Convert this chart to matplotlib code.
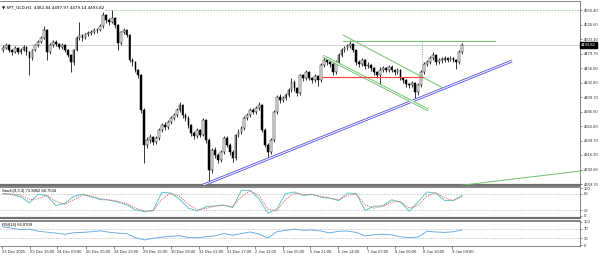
import matplotlib
matplotlib.use("Agg")
import matplotlib.pyplot as plt
import matplotlib.transforms as mtrans
import numpy as np

# ---- data ----
title = "SPT_GLD,H1  4482.84 4497.97 4479.14 4493.82"
first_open = 4486

closes = [4489, 4494, 4486, 4483, 4489, 4483, 4486, 4491, 4483, 4473,
          4486, 4494, 4499, 4505, 4518, 4483, 4494, 4499, 4496, 4491,
          4494, 4486, 4478, 4466, 4486, 4505, 4510, 4505, 4512, 4513,
          4515, 4518, 4518, 4525, 4542, 4534, 4531, 4537, 4526, 4497,
          4515, 4518, 4510, 4470, 4466, 4454, 4445, 4389, 4333, 4341,
          4346, 4337, 4344, 4357, 4365, 4362, 4370, 4376, 4381, 4389,
          4397, 4381, 4376, 4365, 4352, 4347, 4357, 4349, 4373, 4341,
          4292, 4325, 4317, 4308, 4321, 4344, 4333, 4321, 4312, 4349,
          4354, 4360, 4376, 4381, 4389, 4386, 4392, 4397, 4357, 4333,
          4321, 4341, 4386, 4410, 4405, 4408, 4413, 4421, 4434, 4424,
          4416, 4445, 4441, 4450, 4441, 4437, 4444, 4437, 4462, 4470,
          4466, 4463, 4450, 4466, 4478, 4486, 4489, 4492, 4496, 4486,
          4466, 4463, 4470, 4460, 4462, 4457, 4450, 4445, 4454, 4457,
          4454, 4458, 4454, 4450, 4454, 4441, 4437, 4431, 4429, 4433,
          4418, 4429, 4450, 4463, 4466, 4473, 4478, 4466, 4470, 4470,
          4473, 4470, 4473, 4470, 4466, 4482.84, 4493.82]
highs = [4494, 4497, 4495, 4488, 4492, 4490, 4489, 4494, 4492, 4485,
         4488, 4496, 4502, 4509, 4525, 4519, 4497, 4502, 4502, 4498,
         4497, 4495, 4488, 4479, 4488, 4508, 4531, 4512, 4514, 4516,
         4518, 4521, 4522, 4528, 4547, 4544, 4537, 4550, 4539, 4528,
         4517, 4522, 4520, 4512, 4473, 4468, 4456, 4447, 4392, 4345,
         4350, 4348, 4347, 4360, 4368, 4369, 4373, 4379, 4385, 4392,
         4402, 4399, 4385, 4379, 4367, 4355, 4360, 4359, 4376, 4375,
         4344, 4328, 4329, 4320, 4324, 4347, 4347, 4336, 4324, 4351,
         4358, 4363, 4379, 4385, 4392, 4393, 4395, 4402, 4399, 4360,
         4336, 4344, 4389, 4413, 4415, 4412, 4416, 4424, 4440, 4437,
         4427, 4448, 4448, 4453, 4452, 4443, 4447, 4446, 4465, 4475,
         4473, 4468, 4465, 4469, 4481, 4489, 4493, 4496, 4502, 4498,
         4488, 4469, 4473, 4472, 4466, 4464, 4459, 4452, 4458, 4460,
         4459, 4462, 4461, 4456, 4457, 4456, 4443, 4439, 4433, 4436,
         4435, 4432, 4453, 4467, 4470, 4476, 4483, 4480, 4473, 4474,
         4476, 4475, 4477, 4475, 4472, 4486, 4497.97]
lows = [4483, 4487, 4482, 4478, 4481, 4479, 4480, 4484, 4478, 4446,
        4470, 4484, 4491, 4497, 4503, 4470, 4480, 4491, 4492, 4487,
        4488, 4482, 4474, 4451, 4462, 4484, 4502, 4500, 4503, 4508,
        4510, 4512, 4514, 4516, 4522, 4530, 4527, 4529, 4522, 4486,
        4494, 4512, 4507, 4466, 4460, 4450, 4440, 4385, 4304, 4328,
        4336, 4333, 4334, 4341, 4354, 4357, 4359, 4366, 4373, 4378,
        4386, 4377, 4371, 4360, 4348, 4343, 4344, 4345, 4347, 4336,
        4273, 4288, 4312, 4304, 4305, 4318, 4329, 4317, 4305, 4309,
        4345, 4350, 4357, 4373, 4378, 4382, 4383, 4389, 4353, 4329,
        4313, 4318, 4338, 4383, 4401, 4402, 4405, 4410, 4418, 4420,
        4412, 4413, 4436, 4438, 4437, 4433, 4434, 4428, 4434, 4459,
        4462, 4459, 4446, 4447, 4463, 4475, 4483, 4486, 4489, 4482,
        4462, 4458, 4460, 4455, 4457, 4452, 4446, 4441, 4428, 4450,
        4450, 4451, 4450, 4446, 4447, 4437, 4433, 4427, 4424, 4426,
        4408, 4414, 4426, 4447, 4460, 4463, 4470, 4462, 4463, 4465,
        4467, 4466, 4468, 4466, 4456, 4464, 4479.14]
opens = [first_open] + closes[:-1]

# indicators, one value every 3 bars
ind_idx = list(range(0, 157, 3))
stoch_main = [80, 77, 69, 47, 78, 72, 38, 45, 70, 78,
              68, 59, 57, 50, 40, 22, 15, 20, 85, 82,
              60, 28, 18, 33, 36, 39, 30, 92, 92, 60,
              10, 25, 80, 86, 73, 78, 67, 64, 55, 82,
              80, 20, 35, 36, 58, 50, 17, 50, 86, 82,
              55, 56, 74]
stoch_signal = [80, 79, 74, 58, 62, 74, 52, 42, 58, 75,
                72, 62, 58, 53, 44, 28, 18, 18, 60, 82,
                70, 42, 22, 27, 35, 38, 33, 70, 90, 72,
                25, 18, 60, 82, 78, 76, 70, 65, 58, 73,
                80, 40, 28, 35, 50, 52, 28, 38, 72, 84,
                65, 55, 69]
rsi = [80, 73, 67, 69, 60, 56, 52, 47, 54, 55,
       58, 62, 56, 52, 50, 32, 23, 30, 35, 38,
       41, 33, 32, 37, 40, 50, 43, 50, 57, 48,
       31, 58, 64, 69, 64, 66, 61, 53, 60, 61,
       55, 40, 45, 47, 45, 36, 33, 35, 60, 57,
       55, 58, 66]

price_ticks = [4550.40, 4526.60, 4503.10, 4479.70, 4456.60, 4432.80, 4409.70,
               4386.60, 4362.80, 4339.70, 4316.90, 4292.80, 4269.70]
date_pos = [-0.3, 9.2, 18.4, 28.2, 37.7, 47.6, 57.1, 66.6, 76.1, 85.6,
            95.1, 104.3, 113.8, 123.7, 133.2, 142.7, 152.5]
date_labels = ["23 Dec 2025", "23 Dec 16:00", "24 Dec 09:00", "26 Dec 05:00",
               "28 Dec 23:00", "29 Dec 15:00", "30 Dec 08:00", "31 Dec 01:00",
               "31 Dec 17:00", "2 Jan 11:00", "5 Jan 05:00", "5 Jan 21:00",
               "6 Jan 14:00", "7 Jan 07:00", "8 Jan 00:00", "8 Jan 16:00",
               "9 Jan 09:00"]

# drawn objects (bar index, price)
resist_level = 4550.4
blue_trend = [(68, 4268.1), (172.9, 4468.1)]
green_upper = [(115.5, 4510.1), (149.5, 4424.6)]
green_lower = [(108.7, 4476.2), (144.5, 4389.1)]
green_top = [(115.5, 4500.4), (167, 4500.4)]
red_level = [(108.4, 4442.3), (142.7, 4442.3)]
green_vert = [(142.4, 4500.4), (142.4, 4437.5)]
green_bottom = [(153.6, 4266.5), (196, 4290.7)]

fs = 3.0
plt.rcParams["font.family"] = ["Liberation Sans", "DejaVu Sans"]
fig = plt.figure(figsize=(6, 2.57), dpi=100)
ax = fig.add_axes([0.0, 0.28, 0.9667, 0.716])
ax_st = fig.add_axes([0.0, 0.152, 0.9667, 0.12])
ax_rsi = fig.add_axes([0.0, 0.043, 0.9667, 0.097])

xmin, xmax = -1, 196
for a in (ax, ax_st, ax_rsi):
    a.set_xlim(xmin, xmax)
    for s in a.spines.values():
        s.set_color("#707070")
        s.set_linewidth(0.6)
    a.spines["left"].set_visible(False)
    a.yaxis.tick_right()
    a.tick_params(axis="y", labelsize=fs, length=1.5, width=0.4, pad=1, colors="#303030")
ax.spines["bottom"].set_linewidth(1.6)
ax_st.spines["top"].set_linewidth(1.2)
ax_st.spines["bottom"].set_linewidth(1.6)
ax_rsi.spines["top"].set_linewidth(1.2)

# ---- main price panel ----
ax.set_ylim(4268.1, 4564.9)
x = np.arange(len(closes))
for i in x:
    o, c, h, l = opens[i], closes[i], highs[i], lows[i]
    ax.vlines(i, min(l, o, c), max(h, o, c), color="black", lw=0.55, zorder=3)
    up = c >= o
    ax.bar(i, max(abs(c - o), 0.6), bottom=min(o, c), width=0.6,
           color="white" if up else "black", edgecolor="black", lw=0.35, zorder=4)

ax.axhline(closes[-1], color="#c8c8c8", lw=0.6, zorder=1)
ax.hlines(resist_level, 34.7, xmax, colors="#8fd08f", lw=0.7, linestyles=(0, (1.5, 1.5)), zorder=2)


def seg(a, pts, **kw):
    a.plot([p[0] for p in pts], [p[1] for p in pts], **kw)


seg(ax, blue_trend, color="#5a5ae6", lw=2.0, zorder=5, solid_capstyle="butt")
seg(ax, blue_trend, color="white", lw=0.7, zorder=6, solid_capstyle="butt")
seg(ax, green_lower, color="#6cc06c", lw=2.0, zorder=5, solid_capstyle="butt")
seg(ax, green_lower, color="white", lw=0.7, zorder=6, solid_capstyle="butt")
seg(ax, green_upper, color="#6cc06c", lw=0.7, zorder=5)
seg(ax, green_top, color="#6cc06c", lw=0.7, zorder=5)
seg(ax, red_level, color="#ff3b3b", lw=0.8, zorder=7)
seg(ax, green_vert, color="#6cc06c", lw=0.6, ls=(0, (1.5, 1.5)), zorder=5)
seg(ax, green_bottom, color="#6cc06c", lw=0.7, zorder=5)

ax.set_yticks(price_ticks)
ax.set_yticklabels(["%.2f" % v for v in price_ticks])
ax.set_xticks([])
tr = mtrans.blended_transform_factory(ax.transAxes, ax.transData)
ax.text(1.002, closes[-1], "%.2f" % closes[-1], transform=tr, fontsize=fs,
        color="white", va="center", ha="left", clip_on=False,
        bbox=dict(boxstyle="square,pad=0.2", fc="black", ec="black"), zorder=10)
ax.text(0.004, 0.975, "\u25bc " + title, transform=ax.transAxes, fontsize=fs,
        va="top", ha="left", color="black", family=["DejaVu Sans"])

# ---- stochastic ----
ax_st.set_ylim(-7, 103.5)
for lvl in (80, 20):
    ax_st.axhline(lvl, color="#b0b0b0", lw=0.5, ls=(0, (2, 2)))
ax_st.plot(ind_idx, stoch_main, color="#5cc8c8", lw=0.7)
ax_st.plot(ind_idx, stoch_signal, color="#e06060", lw=0.6, ls=(0, (1.5, 1.2)))
ax_st.set_yticks([100, 80, 20, 0])
ax_st.set_yticklabels(["100", "80", "20", "0"])
ax_st.set_xticks([])
ax_st.text(0.004, 0.93, "Stoch(9,3,3) 73.9862 68.7534", transform=ax_st.transAxes,
           fontsize=fs, va="top", ha="left")

# ---- RSI ----
ax_rsi.set_ylim(-3, 104)
for lvl in (70, 30):
    ax_rsi.axhline(lvl, color="#b0b0b0", lw=0.5, ls=(0, (2, 2)))
ax_rsi.plot(ind_idx, rsi, color="#6aaee8", lw=0.7)
ax_rsi.set_yticks([100, 70, 30, 0])
ax_rsi.set_yticklabels(["100", "70", "30", "0"])
ax_rsi.text(0.004, 0.93, "RSI(14) 66.0709", transform=ax_rsi.transAxes,
            fontsize=fs, va="top", ha="left")
ax_rsi.set_xticks(date_pos)
ax_rsi.set_xticklabels(date_labels)
ax_rsi.tick_params(axis="x", labelsize=fs, length=2, width=0.4, pad=0.8, colors="#303030")
for lab in ax_rsi.get_xticklabels():
    lab.set_horizontalalignment("left")

fig.savefig("out.png", dpi=100, facecolor="white")
